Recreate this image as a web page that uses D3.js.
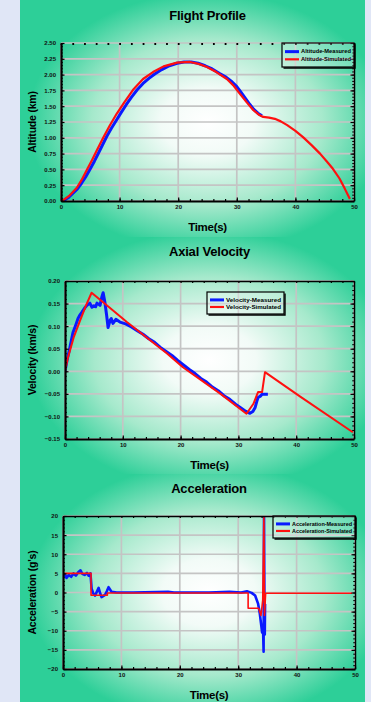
<!DOCTYPE html>
<html>
<head>
<meta charset="utf-8">
<script src="https://cdn.jsdelivr.net/npm/d3@7"></script>
<style>
  html, body { margin: 0; padding: 0; background: #e0e6f6; }
  svg { display: block; font-family: "Liberation Sans", Arial, sans-serif; }
</style>
</head>
<body>
<div id="chart"></div>
<script>
// --- data ---
const timeTicks = [0, 10, 20, 30, 40, 50];
const altTicks = [0, 0.25, 0.5, 0.75, 1, 1.25, 1.5, 1.75, 2, 2.25, 2.5];
const velTicks = [-0.15, -0.1, -0.05, 0, 0.05, 0.1, 0.15, 0.2];
const accTicks = [-20, -15, -10, -5, 0, 5, 10, 15, 20];

const altMeasured = [
  [0, 0], [0.5, 0.01], [1.2, 0.05], [2.0, 0.12], [2.8, 0.19], [3.5, 0.28], [4.2, 0.38],
  [5.0, 0.51], [5.7, 0.63], [6.4, 0.76], [7.1, 0.89], [7.8, 1.02], [8.6, 1.15], [9.4, 1.27],
  [10.2, 1.39], [11.1, 1.52], [12.0, 1.64], [13.0, 1.76], [14.0, 1.86], [15.0, 1.94],
  [16.0, 2.01], [17.2, 2.08], [18.5, 2.14], [19.8, 2.18], [21.0, 2.20], [22.2, 2.20],
  [23.4, 2.18], [24.6, 2.14], [25.8, 2.09], [27.0, 2.02], [28.0, 1.97], [29.0, 1.90],
  [30.0, 1.81], [30.8, 1.71], [31.5, 1.62], [32.2, 1.53], [32.9, 1.45], [33.6, 1.39], [34.3, 1.35]
];
const altSimulated = [
  [0, 0], [0.5, 0.02], [1.5, 0.09], [2.7, 0.21], [3.5, 0.33], [4.4, 0.49], [5.3, 0.65],
  [6.1, 0.80], [7.2, 1.00], [8.3, 1.19], [9.5, 1.38], [10.8, 1.56], [12.3, 1.76], [14.0, 1.93],
  [15.7, 2.04], [17.5, 2.13], [19.8, 2.19], [22.0, 2.20], [23.5, 2.17], [24.9, 2.12],
  [26.5, 2.04], [28.3, 1.93], [29.5, 1.82], [30.5, 1.70], [31.7, 1.56], [32.8, 1.44],
  [33.7, 1.37], [34.5, 1.33], [35.5, 1.32], [36.5, 1.30], [37.5, 1.26], [38.6, 1.20],
  [40.0, 1.11], [41.3, 1.01], [42.8, 0.88], [44.2, 0.75], [45.4, 0.62], [46.4, 0.51],
  [47.5, 0.36], [48.4, 0.20], [49.3, 0.03]
];

const velMeasured = [
  [0, 0], [0.35, 0.024], [0.8, 0.05], [1.38, 0.086], [1.8, 0.1], [2.25, 0.117], [2.6, 0.125],
  [2.94, 0.131], [3.4, 0.14], [3.8, 0.146], [4.3, 0.151], [4.67, 0.142], [5.0, 0.145],
  [5.3, 0.143], [5.54, 0.151], [6.06, 0.146], [6.4, 0.166], [6.6, 0.174], [6.9, 0.153],
  [7.2, 0.124], [7.45, 0.097], [7.8, 0.113], [8.0, 0.117], [8.3, 0.106], [8.8, 0.115],
  [9.5, 0.109], [10.5, 0.105], [11.5, 0.098], [12.5, 0.09], [13.5, 0.082], [14.5, 0.072],
  [15.5, 0.064], [16.5, 0.053], [17.5, 0.044], [18.5, 0.035], [19.5, 0.024], [20.5, 0.014],
  [21.5, 0.004], [22.5, -0.005], [23.5, -0.016], [24.5, -0.024], [25.5, -0.035],
  [26.5, -0.043], [27.5, -0.054], [28.5, -0.062], [29.5, -0.073], [30.5, -0.082],
  [31.3, -0.089], [32.0, -0.093], [32.5, -0.089], [32.9, -0.08], [33.2, -0.066],
  [33.4, -0.058], [33.8, -0.055], [34.1, -0.051], [35.1, -0.051]
];
const velSimulated = [
  [0, 0], [0.5, 0.03], [1.5, 0.075], [2.6, 0.112], [3.6, 0.145], [4.6, 0.174], [6.6, 0.153],
  [10.7, 0.109], [17.6, 0.04], [20.4, 0.009], [26.8, -0.049], [31.4, -0.094], [32.6, -0.072],
  [33.4, -0.046], [34.1, -0.046], [34.6, -0.002], [40.7, -0.056], [49.8, -0.135]
];

const accMeasured = [
  [0, 4.2], [0.3, 4.8], [0.6, 3.8], [1.0, 4.6], [1.4, 4.1], [1.8, 5.0], [2.2, 4.4], [2.6, 5.3],
  [3.0, 5.8], [3.3, 4.9], [3.7, 4.6], [4.1, 5.1], [4.4, 4.4], [4.7, 5.0], [4.9, 1.0],
  [5.2, -0.3], [5.5, -0.8], [6.1, 1.2], [6.4, -0.4], [6.6, -1.2], [7.2, -0.6], [7.5, 0.3],
  [7.8, 1.4], [8.3, 0.2], [9.2, 0], [12, 0], [18, 0.2], [19, 0], [25, 0], [28.5, 0.2],
  [30.5, 0], [31.5, 0.3], [32.3, -0.1], [32.9, -0.8], [33.4, -2.9], [33.7, -5.5],
  [33.9, -8], [34.1, -10.5], [34.25, -9], [34.35, -15.5], [34.42, 20], [34.5, -5],
  [34.55, -11], [34.6, -3]
];
const accSimulated = [
  [0, 5.0], [4.8, 5.0], [4.8, -0.7], [7.6, -0.7], [7.6, -0.15], [31.7, -0.15], [31.7, -4.1],
  [33.5, -4.1], [33.9, -6.0], [34.2, -2.0], [34.4, 20], [34.5, -6.0], [34.7, -0.2], [49.5, -0.2]
];

const W = 371, H = 702;
const green = '#2dcf98';

const svg = d3.select('#chart').append('svg').attr('width', W).attr('height', H);
const defs = svg.append('defs');

// panel
svg.append('rect').attr('x', 20).attr('y', 0).attr('width', 345).attr('height', H).attr('fill', green);

const charts = [
  { title: 'Flight Profile', ylab: 'Altitude (km)', band: [0, 237], left: 61, right: 354, top: 43, bottom: 201,
    yDomain: [0, 2.5], yTicks: altTicks, fmt: d3.format('.2f'), minor: 50, titleY: 20, topFrame: false,
    series: [altMeasured, altSimulated], widths: [3, 2.2],
    legend: { x: 282, y: 43, w: 72, h: 24, names: ['Altitude-Measured', 'Altitude-Simulated'] } },
  { title: 'Axial Velocity', ylab: 'Velocity (km/s)', band: [237, 474], left: 65, right: 354, top: 281, bottom: 439,
    yDomain: [-0.15, 0.2], yTicks: velTicks, fmt: d3.format('.2f'), minor: 35, titleY: 256, topFrame: true,
    series: [velMeasured, velSimulated], widths: [3, 2],
    legend: { x: 207, y: 292, w: 77, h: 22, names: ['Velocity-Measured', 'Velocity-Simulated'] } },
  { title: 'Acceleration', ylab: "Acceleration (g's)", band: [474, 702], left: 63, right: 355, top: 516, bottom: 669,
    yDomain: [-20, 20], yTicks: accTicks, fmt: d3.format('d'), minor: 40, titleY: 493, topFrame: true,
    series: [accMeasured, accSimulated], widths: [2.6, 1.6],
    legend: { x: 273, y: 516, w: 82, h: 22, names: ['Acceleration-Measured', 'Acceleration-Simulated'] } }
];

charts.forEach((c, i) => {
  const cx = (c.left + c.right) / 2, cy = (c.top + c.bottom) / 2;

  // soft white glow behind each plot
  const grad = defs.append('radialGradient').attr('id', 'glow' + i)
    .attr('gradientUnits', 'userSpaceOnUse')
    .attr('cx', cx).attr('cy', cy).attr('r', 180)
    .attr('gradientTransform', `translate(${cx},${cy}) scale(1,0.72) translate(${-cx},${-cy})`);
  grad.append('stop').attr('offset', '0%').attr('stop-color', '#ffffff');
  grad.append('stop').attr('offset', '26%').attr('stop-color', '#f2fbf7');
  grad.append('stop').attr('offset', '64%').attr('stop-color', '#a6e9cc');
  grad.append('stop').attr('offset', '100%').attr('stop-color', green);
  svg.append('rect').attr('x', 20).attr('y', c.band[0]).attr('width', 345).attr('height', c.band[1] - c.band[0])
    .attr('fill', `url(#glow${i})`);

  const g = svg.append('g');
  const x = d3.scaleLinear().domain([0, 50]).range([c.left, c.right]);
  const y = d3.scaleLinear().domain(c.yDomain).range([c.bottom, c.top]);

  // grid
  g.append('g').selectAll('line').data(timeTicks).join('line')
    .attr('x1', d => x(d)).attr('x2', d => x(d)).attr('y1', c.top).attr('y2', c.bottom)
    .attr('stroke', '#c4c4c4').attr('stroke-width', 1.7);
  g.append('g').selectAll('line').data(c.yTicks).join('line')
    .attr('x1', c.left).attr('x2', c.right).attr('y1', d => y(d)).attr('y2', d => y(d))
    .attr('stroke', '#c4c4c4').attr('stroke-width', 1.7);

  // series
  defs.append('clipPath').attr('id', 'clip' + i).append('rect')
    .attr('x', c.left).attr('y', c.top).attr('width', c.right - c.left).attr('height', c.bottom - c.top);
  const line = d3.line().x(d => x(d[0])).y(d => y(d[1]));
  const colors = ['#0a1aff', '#ff1010'];
  c.series.forEach((s, k) => {
    g.append('path').datum(s).attr('d', line)
      .attr('clip-path', `url(#clip${i})`)
      .attr('fill', 'none').attr('stroke', colors[k]).attr('stroke-width', c.widths[k])
      .attr('stroke-linejoin', 'round');
  });

  // axes: major ticks with labels, minor ticks inward
  const tickFont = sel => sel.selectAll('text').attr('font-size', 6).attr('font-weight', 'bold').attr('fill', '#111');
  const styleAxis = (sel, w) => { sel.select('.domain').attr('stroke-width', w).attr('stroke', '#000'); sel.selectAll('.tick line').attr('stroke', '#000').attr('stroke-width', 1.2); };

  const xb = g.append('g').attr('transform', `translate(0,${c.bottom})`)
    .call(d3.axisBottom(x).tickValues(timeTicks).tickSize(-3.5).tickPadding(4).tickSizeOuter(0));
  styleAxis(xb, 2.2); tickFont(xb);
  const xbm = g.append('g').attr('transform', `translate(0,${c.bottom})`)
    .call(d3.axisBottom(x).ticks(25).tickSize(-2).tickFormat('').tickSizeOuter(0));
  xbm.select('.domain').remove(); xbm.selectAll('.tick line').attr('stroke', '#000').attr('stroke-width', 1.2);

  const yl = g.append('g').attr('transform', `translate(${c.left},0)`)
    .call(d3.axisLeft(y).tickValues(c.yTicks).tickFormat(c.fmt).tickSize(-3.5).tickPadding(5).tickSizeOuter(0));
  styleAxis(yl, 2.2); tickFont(yl);
  const ylm = g.append('g').attr('transform', `translate(${c.left},0)`)
    .call(d3.axisLeft(y).ticks(c.minor).tickSize(-1.8).tickFormat('').tickSizeOuter(0));
  ylm.select('.domain').remove(); ylm.selectAll('.tick line').attr('stroke', '#000').attr('stroke-width', 1);

  const yr = g.append('g').attr('transform', `translate(${c.right},0)`)
    .call(d3.axisRight(y).tickValues(c.yTicks).tickSize(-3.5).tickFormat('').tickSizeOuter(0));
  styleAxis(yr, 1.5);
  const yrm = g.append('g').attr('transform', `translate(${c.right},0)`)
    .call(d3.axisRight(y).ticks(c.minor).tickSize(-1.8).tickFormat('').tickSizeOuter(0));
  yrm.select('.domain').remove(); yrm.selectAll('.tick line').attr('stroke', '#000').attr('stroke-width', 1);

  const xt = g.append('g').attr('transform', `translate(0,${c.top})`)
    .call(d3.axisTop(x).ticks(25).tickSize(-2).tickFormat('').tickSizeOuter(0));
  if (c.topFrame) styleAxis(xt, 1.5); else { xt.select('.domain').remove(); xt.selectAll('.tick line').attr('stroke', '#000').attr('stroke-width', 1.8); }

  // titles
  svg.append('text').attr('x', cx).attr('y', c.titleY).attr('text-anchor', 'middle')
    .attr('font-size', 13).attr('font-weight', 'bold').attr('letter-spacing', -0.2).text(c.title);
  svg.append('text').attr('x', cx).attr('y', c.bottom + 30).attr('text-anchor', 'middle')
    .attr('font-size', 11.5).attr('font-weight', 'bold').attr('letter-spacing', -0.3).text('Time(s)');
  svg.append('text').attr('transform', `translate(36,${cy}) rotate(-90)`).attr('text-anchor', 'middle')
    .attr('font-size', 10.5).attr('font-weight', 'bold').attr('letter-spacing', -0.2).text(c.ylab);

  // legend (transparent box with a thin drop shadow)
  const L = c.legend;
  const lg = svg.append('g').attr('transform', `translate(${L.x},${L.y})`);
  lg.append('path').attr('d', `M${L.w + 1},1.5V${L.h + 1}H1.5`).attr('fill', 'none').attr('stroke', '#000').attr('stroke-width', 1.4);
  lg.append('rect').attr('width', L.w).attr('height', L.h).attr('fill', 'rgba(255,255,255,0.25)').attr('stroke', '#000').attr('stroke-width', 1.2);
  L.names.forEach((n, k) => {
    const ly = L.h * (k === 0 ? 0.36 : 0.68);
    lg.append('line').attr('x1', 3).attr('x2', 17).attr('y1', ly).attr('y2', ly)
      .attr('stroke', colors[k]).attr('stroke-width', k === 0 ? 3 : 2.2);
    lg.append('text').attr('x', 19).attr('y', ly + 1.8).attr('font-size', 5).attr('font-weight', 'bold')
      .attr('textLength', L.w - 22).attr('lengthAdjust', 'spacingAndGlyphs').text(n);
  });
});
</script>
</body>
</html>
